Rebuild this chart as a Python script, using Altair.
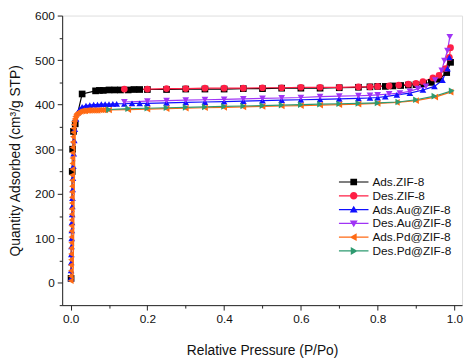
import altair as alt
import pandas as pd

series = ["Ads.ZIF-8", "Des.ZIF-8", "Ads.Au@ZIF-8", "Des.Au@ZIF-8", "Ads.Pd@ZIF-8", "Des.Pd@ZIF-8"]
colors = ["#000000", "#FF1F45", "#1010FF", "#A034F5", "#FF6A14", "#2E9A70"]
shapes = ["square", "circle", "triangle-up", "triangle-down", "triangle-left", "triangle-right"]

# Ads.ZIF-8
p_ads_zif = [0.0012, 0.0042, 0.0052, 0.0075, 0.012, 0.03, 0.065, 0.075, 0.085, 0.1,
             0.115, 0.13, 0.15, 0.165, 0.18, 0.2, 0.25, 0.3, 0.35, 0.4, 0.45, 0.5, 0.55, 0.6, 0.65,
             0.7, 0.75, 0.78, 0.8, 0.82, 0.84, 0.86, 0.88, 0.9, 0.92, 0.94, 0.96, 0.98, 0.99]
q_ads_zif = [10, 250, 300, 340, 357, 424, 431, 432, 432, 433,
             433, 433, 433, 434, 434, 434, 434, 435, 435, 435, 436, 436, 437, 437, 437,
             438, 439, 440, 441, 441, 442, 443, 444, 445, 447, 450, 457, 472, 495]
# Des.ZIF-8
p_des_zif = [0.99, 0.987, 0.977, 0.96, 0.944, 0.918, 0.90, 0.88, 0.855, 0.83, 0.80, 0.78, 0.75,
             0.70, 0.65, 0.60, 0.55, 0.50, 0.45, 0.40, 0.35, 0.30, 0.25, 0.20, 0.14]
q_des_zif = [528, 506, 481, 466, 460, 452, 448, 446, 444, 442, 441, 440, 440,
             439, 439, 439, 438, 438, 437, 437, 437, 436, 436, 435, 435]
# Ads.Au@ZIF-8
p_ads_au = [0.0008, 0.0012, 0.0016, 0.002, 0.0024, 0.0028, 0.0032, 0.0036, 0.004, 0.0044, 0.0048,
            0.0053, 0.006, 0.007, 0.008, 0.0095, 0.011, 0.014, 0.018, 0.024, 0.03, 0.04,
            0.05, 0.06, 0.07, 0.08, 0.09, 0.1, 0.11, 0.12, 0.14, 0.16, 0.18, 0.2,
            0.25, 0.3, 0.35, 0.4, 0.45, 0.5, 0.55, 0.6, 0.65, 0.7, 0.75,
            0.78, 0.8, 0.82, 0.85, 0.884, 0.918, 0.948, 0.969, 0.982, 0.987]
q_ads_au = [10, 28, 46, 64, 82, 100, 118, 136, 154, 172, 190,
            210, 235, 262, 290, 320, 345, 368, 382, 390, 395, 398,
            399, 400, 400, 401, 401, 401, 402, 402, 402, 403, 403, 403,
            404, 405, 406, 407, 408, 409, 410, 411, 412, 413, 414,
            415, 416, 418, 422, 426, 433, 441, 455, 481, 506]
# Des.Au@ZIF-8
p_des_au = [0.988, 0.982, 0.974, 0.967, 0.95, 0.926, 0.905, 0.884, 0.858, 0.83, 0.80, 0.78, 0.75,
            0.70, 0.65, 0.60, 0.55, 0.50, 0.45, 0.40, 0.35, 0.30, 0.25, 0.20, 0.14]
q_des_au = [552, 521, 499, 477, 455, 441, 436, 430, 426, 424, 422, 421, 420,
            419, 418, 416, 415, 414, 413, 412, 411, 410, 409, 408, 406]
# Ads.Pd@ZIF-8
p_ads_pd = [0.0003, 0.0005, 0.0007, 0.0009, 0.0011, 0.0013, 0.0015, 0.0017, 0.0019, 0.0021,
            0.0023, 0.0025, 0.0027, 0.0029, 0.0031, 0.0033, 0.0035, 0.0037, 0.0039, 0.0041,
            0.0043, 0.0045, 0.0047, 0.0049,
            0.0052, 0.0056, 0.006, 0.0066, 0.0073, 0.008, 0.009, 0.0105, 0.012, 0.014, 0.016,
            0.019, 0.022, 0.026, 0.03,
            0.034, 0.038, 0.042, 0.046, 0.05, 0.055, 0.06, 0.065, 0.07, 0.075, 0.08, 0.085,
            0.09, 0.1,
            0.15, 0.2, 0.25, 0.3, 0.35, 0.4, 0.45, 0.5, 0.55, 0.6, 0.65, 0.7, 0.75,
            0.8, 0.85, 0.9, 0.95, 0.99]
q_ads_pd = [5, 15, 27, 40, 52, 65, 78, 90, 103, 116,
            128, 141, 154, 166, 179, 192, 204, 217, 230, 242,
            255, 268, 280, 292,
            304, 316, 328, 338, 347, 355, 362, 368, 373, 377, 380,
            382, 384, 385, 386,
            386, 386, 387, 387, 387, 387, 387, 387, 387, 388, 388, 388,
            388, 388,
            389, 390, 391, 392, 393, 394, 395, 396, 397, 398, 399, 400, 401,
            403, 405, 409, 417, 428]
# Des.Pd@ZIF-8
p_des_pd = [0.993, 0.948, 0.90, 0.854, 0.80, 0.75, 0.70, 0.65, 0.60, 0.55, 0.50, 0.45, 0.40,
            0.35, 0.30, 0.25, 0.20, 0.15, 0.10]
q_des_pd = [431, 419, 411, 406, 404, 403, 402, 401, 400, 399, 398, 397, 396,
            395, 394, 393, 392, 391, 389]

legend_paths = [
    "M-3.75,-0.15H3.75V0.15H-3.75Z M-0.85,-0.85H0.85V0.85H-0.85Z",
    "M-3.75,-0.15H3.75V0.15H-3.75Z M-0.95,0A0.95,0.95 0 1,1 0.95,0A0.95,0.95 0 1,1 -0.95,0Z",
    "M-3.75,-0.15H3.75V0.15H-3.75Z M0,-1L1,0.75H-1Z",
    "M-3.75,-0.15H3.75V0.15H-3.75Z M0,1L-1,-0.75H1Z",
    "M-3.75,-0.15H3.75V0.15H-3.75Z M-1,0L0.75,-1V1Z",
    "M-3.75,-0.15H3.75V0.15H-3.75Z M1,0L-0.75,1V-1Z",
]

groups = [
    (series[0], p_ads_zif, q_ads_zif),
    (series[1], p_des_zif, q_des_zif),
    (series[2], p_ads_au, q_ads_au),
    (series[3], p_des_au, q_des_au),
    (series[4], p_ads_pd, q_ads_pd),
    (series[5], p_des_pd, q_des_pd),
]
rows = []
for name, ps, qs in groups:
    for p, q in zip(ps, qs):
        rows.append({"series": name, "p": p, "q": q})
df = pd.DataFrame(rows)

FONT = "Liberation Sans"

x_enc = alt.X(
    "p:Q",
    scale=alt.Scale(domain=[-0.022, 1.02], nice=False, zero=False),
    axis=alt.Axis(
        title="Relative Pressure (P/Po)",
        values=[0, 0.1, 0.2, 0.3, 0.4, 0.5, 0.6, 0.7, 0.8, 0.9, 1.0],
        labelExpr="round(datum.value*10) % 2 === 0 ? format(datum.value, '.1f') : ''",
        tickSize={"condition": {"test": "round(datum.value*10) % 2 === 1", "value": 3}, "value": 5},
        grid=False, domainColor="#222", tickColor="#222", labelColor="#111",
        labelFont=FONT, labelFontSize=12, labelPadding=4, titleFont=FONT, titleFontSize=14,
        titleFontWeight="normal", titleColor="#111", titlePadding=19, labelFlush=False,
    ),
)
y_enc = alt.Y(
    "q:Q",
    scale=alt.Scale(domain=[-50, 600], nice=False, zero=False),
    axis=alt.Axis(
        title="Quantity Adsorbed (cm³/g STP)",
        values=[-50, 0, 50, 100, 150, 200, 250, 300, 350, 400, 450, 500, 550, 600],
        labelExpr="(datum.value % 100 === 0 && datum.value >= 0) ? datum.label : ''",
        tickSize={"condition": {"test": "datum.value % 100 !== 0", "value": 3}, "value": 5},
        grid=False, domainColor="#222", tickColor="#222", labelColor="#111",
        labelFont=FONT, labelFontSize=12, labelPadding=3, titleFont=FONT, titleFontSize=14,
        titleFontWeight="normal", titleColor="#111", titlePadding=12, labelFlush=False,
    ),
)

base = alt.Chart(df)

lines = base.mark_line(strokeWidth=1.2).encode(
    x=x_enc, y=y_enc,
    color=alt.Color("series:N", scale=alt.Scale(domain=series, range=colors), legend=None),
)
points = base.mark_point(filled=True, size=46, opacity=1).encode(
    x=x_enc, y=y_enc,
    color=alt.Color("series:N", scale=alt.Scale(domain=series, range=colors), legend=None),
    shape=alt.Shape("series:N", scale=alt.Scale(domain=series, range=shapes), legend=None),
)
leg = alt.Legend(
    title=None, orient="none", legendX=290, legendY=163, symbolSize=64, symbolOpacity=1,
    labelFont=FONT, labelFontSize=12, labelColor="#111", labelOffset=13, rowPadding=2,
    padding=0, symbolStrokeWidth=0,
)
legend_layer = base.mark_point(filled=True, opacity=0).encode(
    x=x_enc, y=y_enc,
    color=alt.Color("series:N", scale=alt.Scale(domain=series, range=colors), legend=leg),
    shape=alt.Shape("series:N", scale=alt.Scale(domain=series, range=legend_paths), legend=leg),
)

chart = alt.layer(lines, points, legend_layer).resolve_scale(
    color="independent", shape="independent"
).properties(
    width=406, height=294,
    autosize=alt.AutoSizeParams(type="none"),
    padding={"left": 55, "top": 5, "right": 4, "bottom": 51},
).configure_view(stroke="#222", strokeWidth=1).configure(background="white")

chart.save("out.html", embed_options={"renderer": "svg", "actions": False})
